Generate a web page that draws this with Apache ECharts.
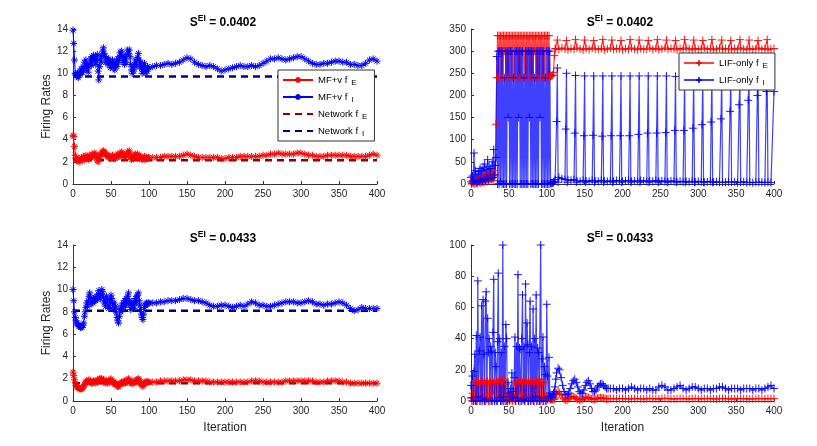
<!DOCTYPE html>
<html>
<head>
<meta charset="utf-8">
<script src="https://cdn.jsdelivr.net/npm/echarts@6/dist/echarts.min.js"></script>
<style>
  html, body { margin: 0; padding: 0; background: #fff; }
  #main { width: 817px; height: 446px; }
</style>
</head>
<body>
<div id="main"></div>
<script>
// ---------- data ----------
const sTop = '0.0402'
const sBottom = '0.0433'
const xTicks = [0, 400, 50]          // min, max, step of iteration axis
const yTicksMF = [0, 14, 2]
const yTicksLIFTop = [0, 350, 50]
const yTicksLIFBottom = [0, 100, 20]

// network rates (flat dashed lines): [f_E, f_I]
const networkTop = [2.15, 9.7]
const networkBottom = [1.6, 8.1]

// MF+v, top panel. early: iterations 0..100 step 1, late: 105..400 step 5
const mfTopIEarly = [
  13.9, 12.7, 11.2, 10.0, 9.9, 9.7, 10.0, 9.6, 9.8, 10.2,
  9.9, 10.4, 10.1, 10.6, 10.2, 11.0, 10.5, 11.2, 10.4, 10.8,
  10.1, 10.6, 10.9, 11.3, 10.7, 11.5, 11.1, 11.6, 11.2, 11.5,
  10.8, 11.3, 11.7, 10.2, 9.4, 10.6, 11.3, 11.0, 11.6, 12.0,
  12.3, 11.8, 11.5, 11.0, 11.4, 11.2, 10.8, 11.3, 10.9, 10.5,
  11.0, 10.7, 11.2, 10.5, 10.9, 10.3, 10.8, 11.1, 10.6, 11.3,
  11.0, 11.5, 11.9, 11.6, 12.0, 11.4, 11.0, 11.5, 10.8, 11.3,
  11.0, 11.7, 12.1, 11.8, 12.1, 11.5, 10.8, 10.3, 10.0, 10.6,
  10.2, 10.8, 11.2, 10.6, 11.0, 11.4, 11.8, 11.2, 10.6, 11.0,
  10.4, 10.0, 10.7, 10.2, 10.9, 10.3, 10.0, 10.2, 10.6, 10.4,
  10.5
]
const mfTopILate = [
  10.6, 10.7, 10.7, 10.8, 10.9, 10.8, 10.9, 11.0, 11.2, 11.4,
  11.3, 11.0, 10.8, 10.7, 10.6, 10.7, 10.6, 10.4, 10.2, 10.3,
  10.4, 10.5, 10.6, 10.7, 10.6, 10.6, 10.7, 10.6, 10.7, 10.9,
  11.1, 11.3, 11.3, 11.4, 11.3, 11.2, 11.3, 11.4, 11.5, 11.5,
  11.3, 11.1, 10.9, 10.8, 10.8, 10.9, 10.9, 11.0, 11.1, 11.1,
  11.0, 11.0, 10.8, 10.8, 10.7, 10.7, 10.9, 11.2, 11.3, 11.1
]
const mfTopEEarly = [
  4.4, 4.3, 3.4, 2.6, 2.3, 2.1, 2.2, 2.0, 2.3, 2.1,
  2.2, 2.4, 2.1, 2.3, 2.5, 2.2, 2.4, 2.6, 2.3, 2.5,
  2.2, 2.4, 2.6, 2.4, 2.5, 2.7, 2.5, 2.6, 2.8, 2.5,
  2.7, 2.4, 2.1, 2.0, 2.3, 2.5, 2.7, 2.6, 2.8, 2.9,
  3.0, 2.9, 2.8, 2.6, 2.7, 2.5, 2.6, 2.4, 2.5, 2.3,
  2.5, 2.4, 2.6, 2.3, 2.4, 2.5, 2.3, 2.6, 2.4, 2.7,
  2.5, 2.6, 2.8, 2.6, 2.9, 2.7, 2.5, 2.7, 2.4, 2.6,
  2.5, 2.7, 2.9, 2.8, 3.0, 2.7, 2.4, 2.2, 2.3, 2.5,
  2.3, 2.6, 2.7, 2.4, 2.6, 2.7, 2.5, 2.6, 2.3, 2.5,
  2.3, 2.2, 2.4, 2.3, 2.5, 2.2, 2.3, 2.4, 2.3, 2.4,
  2.4
]
const mfTopELate = [
  2.4, 2.4, 2.4, 2.5, 2.5, 2.5, 2.5, 2.5, 2.6, 2.7,
  2.6, 2.5, 2.4, 2.4, 2.4, 2.4, 2.4, 2.4, 2.3, 2.3,
  2.4, 2.4, 2.4, 2.5, 2.5, 2.5, 2.5, 2.5, 2.5, 2.6,
  2.6, 2.7, 2.7, 2.8, 2.7, 2.7, 2.7, 2.7, 2.8, 2.8,
  2.7, 2.6, 2.6, 2.5, 2.5, 2.5, 2.6, 2.6, 2.6, 2.6,
  2.6, 2.6, 2.5, 2.5, 2.5, 2.5, 2.5, 2.6, 2.7, 2.6
]

// MF+v, bottom panel
const mfBotIEarly = [
  10.0, 9.0, 8.0, 7.5, 7.2, 7.0, 6.9, 6.8, 6.7, 6.7,
  6.6, 6.7, 6.6, 6.8, 7.0, 7.6, 8.0, 8.4, 8.8, 8.5,
  9.0, 9.4, 9.7, 9.3, 8.7, 9.0, 8.8, 9.2, 9.0, 9.3,
  9.0, 9.4, 9.1, 9.6, 9.9, 9.5, 9.2, 9.6, 10.0, 9.8,
  9.3, 8.8, 9.0, 8.5, 9.4, 9.1, 8.6, 8.3, 8.6, 9.0,
  9.5, 9.2, 8.8, 8.4, 8.8, 8.2, 8.5, 7.9, 7.5, 7.2,
  7.0, 7.6, 8.3, 8.0, 8.6, 8.2, 8.8, 8.4, 9.0, 8.6,
  9.2, 8.8, 9.4, 9.7, 9.0, 8.6, 8.2, 8.8, 8.4, 8.9,
  8.3, 8.7, 9.2, 8.8, 9.4, 9.5, 9.7, 9.0, 8.6, 8.2,
  7.8, 7.5, 7.3, 7.8, 8.4, 8.6, 8.7, 8.8, 8.7, 8.8,
  8.8
]
const mfBotILate = [
  8.8, 8.8, 8.9, 8.9, 9.0, 9.0, 9.0, 9.1, 9.2, 9.2,
  9.1, 9.0, 9.0, 8.9, 8.8, 8.6, 8.5, 8.5, 8.6, 8.6,
  8.5, 8.4, 8.5, 8.6, 8.5, 8.7, 8.9, 8.8, 8.6, 8.6,
  8.5, 8.5, 8.6, 8.7, 8.8, 8.9, 8.9, 8.9, 8.8, 8.8,
  8.9, 9.0, 8.9, 8.7, 8.7, 8.6, 8.7, 8.7, 8.8, 8.9,
  8.8, 8.6, 8.3, 8.1, 8.2, 8.4, 8.3, 8.3, 8.3, 8.3
]
const mfBotEEarly = [
  2.6, 2.3, 1.9, 1.6, 1.4, 1.3, 1.2, 1.2, 1.1, 1.1,
  1.1, 1.1, 1.1, 1.2, 1.3, 1.5, 1.6, 1.7, 1.8, 1.7,
  1.8, 1.9, 1.7, 1.8, 1.6, 1.7, 1.6, 1.8, 1.7, 1.8,
  1.6, 1.8, 1.7, 1.9, 1.8, 2.0, 1.9, 2.0, 2.0, 1.8,
  1.9, 1.7, 1.8, 1.6, 1.8, 1.7, 1.6, 1.8, 1.7, 1.9,
  2.0, 1.8, 1.7, 1.6, 1.7, 1.5, 1.6, 1.5, 1.4, 1.3,
  1.3, 1.5, 1.6, 1.5, 1.7, 1.6, 1.7, 1.6, 1.8, 1.6,
  1.8, 1.7, 1.9, 2.0, 1.8, 1.7, 1.6, 1.7, 1.6, 1.8,
  1.6, 1.7, 1.8, 1.7, 1.9, 1.9, 2.0, 1.9, 1.7, 1.6,
  1.5, 1.4, 1.3, 1.5, 1.6, 1.7, 1.7, 1.7, 1.7, 1.7,
  1.7
]
const mfBotELate = [
  1.7, 1.7, 1.8, 1.8, 1.8, 1.8, 1.8, 1.8, 1.9, 1.9,
  1.9, 1.8, 1.8, 1.8, 1.8, 1.7, 1.7, 1.7, 1.7, 1.7,
  1.7, 1.7, 1.7, 1.7, 1.7, 1.7, 1.8, 1.8, 1.8, 1.7,
  1.7, 1.7, 1.7, 1.7, 1.7, 1.8, 1.8, 1.8, 1.8, 1.8,
  1.8, 1.8, 1.8, 1.7, 1.7, 1.7, 1.8, 1.8, 1.8, 1.8,
  1.7, 1.7, 1.6, 1.6, 1.6, 1.6, 1.6, 1.6, 1.6, 1.6
]

// LIF-only, top panel. early: iterations 0..111 step 1
const lifTopEEarly = [
  5, 0, 8, 2, 10, 0, 12, 3, 6, 1,
  15, 4, 8, 2, 18, 6, 12, 3, 20, 8,
  14, 5, 22, 10, 18, 6, 25, 12, 20, 8,
  30, 15, 22, 135, 240, 335, 240, 335, 300, 335,
  240, 335, 240, 335, 300, 335, 240, 335, 240, 335,
  240, 335, 300, 335, 240, 335, 240, 335, 240, 335,
  300, 335, 240, 335, 240, 335, 240, 335, 300, 335,
  240, 335, 240, 335, 240, 335, 300, 335, 240, 335,
  240, 335, 240, 335, 300, 335, 240, 335, 240, 335,
  240, 335, 300, 335, 240, 335, 240, 335, 240, 335,
  300, 335, 240, 335, 243, 243, 244, 245, 246, 252,
  290, 305
]
// late E: iterations 112..400 step 4
const lifTopELate = [
  306, 304, 307, 305, 303, 306, 304, 307, 305, 303,
  306, 304, 307, 305, 304, 306, 303, 305, 307, 304,
  306, 305, 303, 306, 304, 307, 305, 303, 306, 304,
  305, 307, 304, 306, 303, 305, 307, 304, 306, 305,
  303, 306, 304, 307, 305, 303, 306, 304, 305, 307,
  304, 306, 303, 305, 307, 304, 306, 305, 303, 306,
  304, 307, 305, 303, 306, 304, 305, 307, 304, 306,
  303, 305, 306
]
const lifTopIEarly = [
  15, 2, 18, 5, 70, 8, 30, 3, 22, 5,
  28, 8, 35, 10, 30, 5, 38, 12, 45, 8,
  33, 15, 55, 10, 40, 20, 35, 12, 50, 15,
  78, 20, 42, 60, 288, 0, 300, 0, 300, 5,
  300, 0, 300, 0, 240, 0, 300, 0, 300, 150,
  300, 0, 300, 0, 300, 0, 240, 0, 300, 0,
  300, 0, 300, 150, 300, 0, 300, 0, 300, 0,
  240, 0, 300, 0, 300, 0, 300, 150, 300, 0,
  300, 0, 300, 0, 240, 0, 300, 0, 300, 0,
  300, 150, 300, 0, 300, 0, 300, 0, 240, 0,
  300, 0, 300, 0, 300, 2, 1, 3, 2, 4,
  6, 10
]
// late I baseline: iterations 116..396 step 4
const lifTopIBase = [
  15, 12, 10, 9, 8, 10, 7, 6, 8, 7,
  6, 8, 7, 6, 8, 7, 6, 7, 6, 8,
  7, 6, 7, 8, 6, 7, 6, 8, 7, 6,
  7, 6, 8, 6, 7, 6, 5, 7, 6, 5,
  6, 5, 6, 5, 6, 5, 6, 5, 4, 5,
  6, 4, 5, 4, 5, 4, 5, 4, 5, 3,
  4, 5, 3, 4, 3, 4, 3, 4, 3, 4,
  3
]
// periodic spikes of f_I after iteration 112 (peak iteration, value before peak, peak)
const lifTopSpikeIter = [114, 126, 138, 150, 162, 174, 186, 198, 210, 222, 234, 246,
  258, 270, 282, 294, 306, 318, 331, 343, 355, 367, 379, 391]
const lifTopSpikeMid = [141, 124, 115, 109, 110, 108, 109, 109, 109, 112, 115, 115,
  116, 121, 121, 126, 134, 140, 147, 164, 179, 189, 200, 209]
const lifTopSpikePeak = [262, 250, 245, 244, 244, 244, 244, 244, 244, 244, 244, 244,
  244, 243, 243, 243, 243, 243, 243, 243, 243, 243, 243, 243]
const lifTopSpikeE = [325, 324, 326, 325, 324, 326, 325, 324, 326, 325, 324, 326,
  325, 324, 326, 325, 324, 326, 325, 324, 326, 325, 324, 326]
const lifTopILast = 209   // value at iteration 400

// LIF-only, bottom panel. early: 0..112 step 1, mid: 113..181 step 2, late: 184..400 step 4
const lifBotIEarly = [
  10, 2, 16, 0, 19, 30, 0, 42, 0, 77,
  3, 32, 41, 0, 61, 2, 65, 30, 0, 64,
  70, 1, 53, 31, 40, 0, 35, 32, 0, 44,
  78, 0, 31, 22, 0, 38, 82, 2, 40, 0,
  31, 0, 100, 3, 35, 0, 49, 40, 0, 12,
  5, 1, 8, 3, 18, 2, 6, 15, 41, 0,
  35, 2, 81, 0, 34, 33, 0, 40, 68, 1,
  35, 0, 75, 2, 50, 36, 0, 31, 64, 0,
  35, 2, 59, 0, 40, 3, 68, 0, 34, 31,
  0, 0, 100, 2, 27, 41, 0, 22, 17, 0,
  62, 16, 3, 28, 5, 3, 2, 3, 4, 5,
  6, 9, 14
]
const lifBotIMid = [
  18, 21, 20, 15, 10, 6, 4, 4, 5, 8,
  11, 13, 14, 12, 9, 6, 5, 5, 7, 10,
  12, 13, 11, 8, 6, 6, 7, 9, 10, 11,
  11, 10, 9, 8, 8
]
const lifBotILate = [
  8, 8, 7, 8, 8, 7, 8, 9, 8, 7,
  8, 8, 7, 8, 7, 7, 9, 10, 9, 7,
  7, 8, 9, 10, 8, 7, 8, 9, 9, 8,
  7, 8, 8, 7, 8, 8, 9, 9, 8, 7,
  8, 8, 8, 7, 8, 8, 8, 7, 8, 8,
  7, 8, 9, 10, 8
]
const lifBotEEarly = [
  2, 0, 5, 0, 12, 1, 10, 0, 13, 2,
  12, 0, 11, 3, 13, 0, 12, 1, 13, 0,
  12, 4, 13, 0, 11, 2, 12, 0, 13, 5,
  12, 0, 11, 1, 13, 0, 12, 3, 14, 0,
  12, 1, 14, 0, 13, 2, 11, 0, 5, 1,
  3, 0, 2, 1, 3, 0, 4, 1, 12, 0,
  11, 2, 13, 0, 12, 4, 13, 0, 12, 1,
  13, 0, 11, 3, 12, 0, 13, 2, 12, 0,
  13, 1, 12, 0, 11, 5, 13, 0, 12, 2,
  14, 0, 12, 1, 11, 0, 12, 3, 2, 0,
  3, 1, 2, 1, 2, 1, 1, 1, 1, 2,
  1, 2, 4
]
const lifBotEMid = [
  5, 6, 5, 4, 2, 1.2, 0.6, 0.8, 1.5, 2.4,
  3, 2.8, 2.3, 1.6, 1, 0.7, 0.8, 1.2, 1.8, 2.3,
  2.5, 2.2, 1.8, 1.3, 1, 1, 1.3, 1.7, 2, 2.1,
  1.9, 1.7, 1.5, 1.4, 1.5
]
const lifBotELate = [
  1.6, 1.5, 1.4, 1.5, 1.6, 1.5, 1.3, 1.4, 1.6, 1.5,
  1.4, 1.3, 1.5, 1.6, 1.5, 1.4, 1.3, 1.5, 1.7, 1.6,
  1.4, 1.3, 1.4, 1.6, 1.5, 1.4, 1.3, 1.5, 1.6, 1.5,
  1.4, 1.5, 1.6, 1.5, 1.4, 1.3, 1.5, 1.6, 1.5, 1.4,
  1.3, 1.4, 1.5, 1.6, 1.5, 1.4, 1.3, 1.4, 1.5, 1.6,
  1.5, 1.4, 1.5, 1.6, 1.5
]

// ---------- helpers ----------
function seq(start, step, vals) {
  return vals.map((v, i) => [start + i * step, v])
}
function byIter(a, b) { return a[0] - b[0] }

// top LIF f_I after iteration 112: baseline + spikes
function lifTopILatePoints() {
  const pts = []
  lifTopSpikeIter.forEach((s, k) => {
    pts.push([s - 1, lifTopSpikeMid[k]], [s, lifTopSpikePeak[k]], [s + 1, 4])
  })
  seq(116, 4, lifTopIBase).forEach(p => {
    if (!lifTopSpikeIter.some(s => Math.abs(p[0] - s) <= 1)) pts.push(p)
  })
  pts.push([400, lifTopILast])
  return pts.sort(byIter)
}
function lifTopELatePoints() {
  const pts = lifTopSpikeIter.map((s, k) => [s, lifTopSpikeE[k]])
  seq(112, 4, lifTopELate).forEach(p => {
    if (!lifTopSpikeIter.includes(p[0])) pts.push(p)
  })
  return pts.sort(byIter)
}

const RED = '#ff0000'
const BLUE = '#0000ff'
const NET_E = '#8b0000'
const NET_I = '#00007f'
const STAR = 'path://M5,0L5,10M0,5L10,5M1.5,1.5L8.5,8.5M1.5,8.5L8.5,1.5'
const PLUS = 'path://M5,0L5,10M0,5L10,5'
const FONT = 'Liberation Sans, Arial, sans-serif'

function mfSeries(name, grid, color, data) {
  return {
    name: name, type: 'line', xAxisIndex: grid, yAxisIndex: grid,
    data: data, symbol: STAR, symbolSize: 7, showAllSymbol: true,
    lineStyle: { color: color, width: 1 },
    itemStyle: { color: 'transparent', borderColor: color, borderWidth: 1 },
    silent: true
  }
}
function netSeries(name, grid, color, v) {
  return {
    name: name, type: 'line', xAxisIndex: grid, yAxisIndex: grid,
    data: [[xTicks[0], v], [xTicks[1], v]], symbol: 'none',
    lineStyle: { color: color, width: 2.5, type: [7, 5] },
    itemStyle: { color: color },
    silent: true
  }
}
function lifSeries(name, grid, rgb, data) {
  return {
    name: name, type: 'line', xAxisIndex: grid, yAxisIndex: grid,
    data: data, symbol: PLUS, symbolSize: 8, showAllSymbol: true,
    lineStyle: { color: 'rgba(' + rgb + ',0.75)', width: 1.2 },
    itemStyle: { color: 'transparent', borderColor: 'rgba(' + rgb + ',0.9)', borderWidth: 1 },
    silent: true
  }
}

const grids = [
  { left: 73, top: 29, width: 304, height: 155 },
  { left: 471, top: 29, width: 303, height: 155 },
  { left: 73, top: 245, width: 304, height: 156 },
  { left: 471, top: 245, width: 303, height: 156 }
]

const axisCommon = {
  axisLine: { show: true, lineStyle: { color: '#333', width: 1 } },
  axisTick: { show: true, inside: true, length: 3, lineStyle: { color: '#333' } },
  splitLine: { show: false },
  axisLabel: { color: '#262626', fontSize: 10, fontFamily: FONT }
}

function xAxis(grid, withName) {
  return Object.assign({}, axisCommon, {
    type: 'value', gridIndex: grid, min: xTicks[0], max: xTicks[1], interval: xTicks[2],
    axisLabel: Object.assign({}, axisCommon.axisLabel, { margin: 5 }),
    name: withName ? 'Iteration' : '', nameLocation: 'middle', nameGap: 21,
    nameTextStyle: { color: '#262626', fontSize: 12, fontFamily: FONT }
  })
}
function yAxis(grid, ticks, withName) {
  return Object.assign({}, axisCommon, {
    type: 'value', gridIndex: grid, min: ticks[0], max: ticks[1], interval: ticks[2],
    axisLabel: Object.assign({}, axisCommon.axisLabel, { margin: 5 }),
    name: withName ? 'Firing Rates' : '', nameLocation: 'middle', nameGap: 19,
    nameTextStyle: { color: '#262626', fontSize: 12, fontFamily: FONT }
  })
}

const titleRich = {
  s: { fontSize: 12, fontWeight: 'bold', color: '#000', fontFamily: FONT },
  p: { fontSize: 8.5, fontWeight: 'bold', color: '#000', fontFamily: FONT, padding: [0, 0, 8, 0] }
}
function title(x, y, val) {
  return {
    text: '{s|S}{p|EI}{s| = ' + val + '}', left: x, top: y, textAlign: 'center',
    textStyle: { rich: titleRich }
  }
}

const legendRich = {
  m: { fontSize: 9.5, lineHeight: 11, color: '#000', fontFamily: FONT },
  b: { fontSize: 8, lineHeight: 8, color: '#000', fontFamily: FONT, padding: [6, 0, 0, 4] }
}
function legendText(n) {
  const parts = n.split('_')
  return '{m|' + parts[0] + '}{b|' + parts[1] + '}'
}
function legend(data, x, y, gap) {
  return {
    data: data, left: x, top: y, orient: 'vertical', z: 20,
    itemWidth: 30, itemHeight: 7, itemGap: gap, padding: [3, 7, 3, 4],
    backgroundColor: '#fff', borderColor: '#333', borderWidth: 1, borderRadius: 0,
    formatter: legendText, selectedMode: false,
    textStyle: { rich: legendRich, fontSize: 9.5 }
  }
}
const hidden = { opacity: 0 }

const chart = echarts.init(document.getElementById('main'))
chart.setOption({
  backgroundColor: '#fff',
  animation: false,
  textStyle: { fontFamily: FONT },
  title: [
    title(218, 9, sTop), title(615, 9, sTop),
    title(218, 225, sBottom), title(615, 225, sBottom)
  ],
  legend: [
    legend(['MF+v f_E', 'MF+v f_I',
      { name: 'Network f_E', itemStyle: hidden }, { name: 'Network f_I', itemStyle: hidden }], 278, 70, 3),
    legend(['LIF-only f_E', 'LIF-only f_I'], 679, 53, 3)
  ],
  grid: grids,
  xAxis: [xAxis(0, false), xAxis(1, false), xAxis(2, true), xAxis(3, true)],
  yAxis: [
    yAxis(0, yTicksMF, true), yAxis(1, yTicksLIFTop, false),
    yAxis(2, yTicksMF, true), yAxis(3, yTicksLIFBottom, false)
  ],
  series: [
    // top left
    mfSeries('MF+v f_E', 0, RED, seq(0, 1, mfTopEEarly).concat(seq(105, 5, mfTopELate))),
    mfSeries('MF+v f_I', 0, BLUE, seq(0, 1, mfTopIEarly).concat(seq(105, 5, mfTopILate))),
    netSeries('Network f_E', 0, NET_E, networkTop[0]),
    netSeries('Network f_I', 0, NET_I, networkTop[1]),
    // top right
    lifSeries('LIF-only f_E', 1, '255,0,0', seq(0, 1, lifTopEEarly).concat(lifTopELatePoints())),
    lifSeries('LIF-only f_I', 1, '0,0,255', seq(0, 1, lifTopIEarly).concat(lifTopILatePoints())),
    // bottom left
    mfSeries('MF+v f_E', 2, RED, seq(0, 1, mfBotEEarly).concat(seq(105, 5, mfBotELate))),
    mfSeries('MF+v f_I', 2, BLUE, seq(0, 1, mfBotIEarly).concat(seq(105, 5, mfBotILate))),
    netSeries('Network f_E', 2, NET_E, networkBottom[0]),
    netSeries('Network f_I', 2, NET_I, networkBottom[1]),
    // bottom right
    lifSeries('LIF-only f_E', 3, '255,0,0',
      seq(0, 1, lifBotEEarly).concat(seq(113, 2, lifBotEMid), seq(184, 4, lifBotELate))),
    lifSeries('LIF-only f_I', 3, '0,0,255',
      seq(0, 1, lifBotIEarly).concat(seq(113, 2, lifBotIMid), seq(184, 4, lifBotILate)))
  ]
})
</script>
</body>
</html>
